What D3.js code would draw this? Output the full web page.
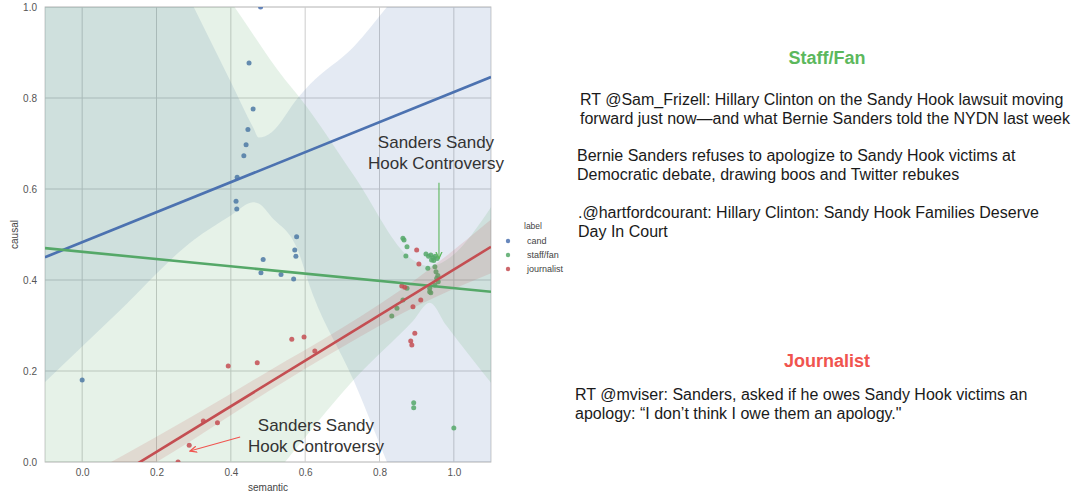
<!DOCTYPE html>
<html><head><meta charset="utf-8">
<script src="https://cdn.jsdelivr.net/npm/d3@7"></script>
<style>
body{margin:0;background:#fff;}
svg{display:block;font-family:"Liberation Sans",Arial,Helvetica,sans-serif;}
</style>
</head><body>
<svg id="chart" width="1075" height="494"></svg>
<script>
// ---------- data ----------
const categories = ["cand", "staff/fan", "journalist"];
const seriesColors = ["#4c72b0", "#55a868", "#c44e52"];
const xTicks = [0.0, 0.2, 0.4, 0.6, 0.8, 1.0];
const yTicks = [0.0, 0.2, 0.4, 0.6, 0.8, 1.0];
const xDomain = [-0.1, 1.1];
const yDomain = [0, 1];

const candX = [0.0, 0.48, 0.449, 0.46, 0.446, 0.441, 0.435, 0.417, 0.414, 0.416, 0.577, 0.572, 0.575, 0.487, 0.481, 0.535, 0.569];
const candY = [0.18, 1.0, 0.877, 0.776, 0.731, 0.697, 0.673, 0.626, 0.573, 0.556, 0.495, 0.466, 0.452, 0.445, 0.416, 0.412, 0.402];

const staffX = [0.863, 0.866, 0.874, 0.871, 0.925, 0.932, 0.938, 0.944, 0.950, 0.946, 0.955, 0.940, 0.930, 0.949, 0.952, 0.957, 0.954, 0.949, 0.958, 0.935, 0.938, 0.935, 0.874, 0.863, 0.847, 0.833, 0.892, 0.892, 1.0];
const staffY = [0.492, 0.488, 0.473, 0.453, 0.457, 0.452, 0.455, 0.449, 0.452, 0.443, 0.447, 0.444, 0.426, 0.429, 0.418, 0.410, 0.404, 0.389, 0.396, 0.382, 0.372, 0.374, 0.382, 0.356, 0.338, 0.321, 0.130, 0.119, 0.075];

const journalistX = [0.258, 0.288, 0.326, 0.364, 0.393, 0.471, 0.564, 0.597, 0.626, 0.860, 0.868, 0.911, 0.890, 0.895, 0.884, 0.887, 0.900, 0.906];
const journalistY = [0.0, 0.037, 0.090, 0.086, 0.211, 0.218, 0.270, 0.275, 0.244, 0.387, 0.384, 0.356, 0.341, 0.283, 0.266, 0.257, 0.466, 0.435];

// regression lines (values at x = -0.1 and 1.1)
const lineX = [-0.1, 1.1];
const candLine = [0.450, 0.846];
const staffLine = [0.470, 0.374];
const journalistLine = [-0.128, 0.473];

// confidence bands
const candBandX    = [-0.1, 0.10, 0.30, 0.40, 0.46, 0.475, 0.51, 0.58, 0.613, 0.73, 0.82, 1.1];
const candBandLow  = [0.176, 0.332, 0.488, 0.542, 0.571, 0.568, 0.538, 0.466, 0.385, 0.18, 0.0, -0.56];
const candBandHigh = [1.66, 1.33, 1.0, 0.835, 0.735, 0.713, 0.725, 0.80, 0.83, 0.912, 1.0, 1.29];

const staffBandX    = [-0.1, 0.41, 0.546, 0.586, 0.73, 0.89, 0.935, 0.98, 1.1];
const staffBandLow  = [-0.65, -0.13, 0.0, 0.04, 0.18, 0.31, 0.35, 0.30, 0.174];
const staffBandHigh = [1.59, 1.0, 0.84, 0.80, 0.631, 0.444, 0.43, 0.444, 0.56];

const journalistBandX    = [-0.1, 0.1, 0.3, 0.5, 0.7, 0.9, 1.1];
const journalistBandLow  = [-0.18, -0.053, 0.050, 0.155, 0.253, 0.343, 0.415];
const journalistBandHigh = [-0.078, 0.010, 0.102, 0.199, 0.295, 0.403, 0.533];

// annotations (data coordinates)
const annoLines = [["Sanders Sandy", "Hook Controversy"], ["Sanders Sandy", "Hook Controversy"]];
const annoTextX = [0.952, 0.629];
const annoTextY = [0.69, 0.068];
const annoArrowFrom = [[0.96, 0.614], [0.425, 0.055]];
const annoArrowTo = [[0.96, 0.447], [0.29, 0.024]];
const annoColors = ["#5cb85c", "#f0544f"];

// right-hand tweets
const panelHeads = ["Staff/Fan", "Journalist"];
const panelHeadColors = ["#5cb85c", "#f0544f"];
const tweets = [
  ["RT @Sam_Frizell: Hillary Clinton on the Sandy Hook lawsuit moving", "forward just now\u2014and what Bernie Sanders told the NYDN last week"],
  ["Bernie Sanders refuses to apologize to Sandy Hook victims at", "Democratic debate, drawing boos and Twitter rebukes"],
  [".@hartfordcourant: Hillary Clinton: Sandy Hook Families Deserve", "Day In Court"],
  ["RT @mviser: Sanders, asked if he owes Sandy Hook victims an", "apology: \u201cI don\u2019t think I owe them an apology.\""]
];

// ---------- drawing ----------
const svg = d3.select("#chart");
const L = 45, R = 491, T = 7, B = 462;
const x = d3.scaleLinear().domain(xDomain).range([L, R]);
const y = d3.scaleLinear().domain(yDomain).range([B, T]);

svg.append("defs").append("clipPath").attr("id", "plotclip")
  .append("rect").attr("x", L).attr("y", T).attr("width", R - L).attr("height", B - T);

// grid
const grid = svg.append("g");
grid.selectAll(".gx").data(xTicks).enter().append("line")
  .attr("x1", d => x(d)).attr("x2", d => x(d)).attr("y1", T).attr("y2", B)
  .attr("stroke", "#cccccc").attr("stroke-width", 1);
grid.selectAll(".gy").data(yTicks).enter().append("line")
  .attr("y1", d => y(d)).attr("y2", d => y(d)).attr("x1", L).attr("x2", R)
  .attr("stroke", "#cccccc").attr("stroke-width", 1);
svg.append("rect").attr("x", L).attr("y", T).attr("width", R - L).attr("height", B - T)
  .attr("fill", "none").attr("stroke", "#cccccc").attr("stroke-width", 1);

// axes (labels only)
const xAxis = svg.append("g").attr("transform", `translate(0,${B})`)
  .call(d3.axisBottom(x).tickValues(xTicks).tickFormat(d3.format(".1f")).tickSize(0).tickPadding(7));
const yAxis = svg.append("g").attr("transform", `translate(${L},0)`)
  .call(d3.axisLeft(y).tickValues(yTicks).tickFormat(d3.format(".1f")).tickSize(0).tickPadding(8));
[xAxis, yAxis].forEach(a => {
  a.select(".domain").remove();
  a.selectAll("text").attr("fill", "#555").style("font-size", "10px").style("font-family", "'Liberation Sans', Arial, sans-serif");
});
svg.append("text").attr("x", (L + R) / 2).attr("y", 491).attr("text-anchor", "middle")
  .attr("fill", "#444").style("font-size", "10px").text("semantic");
svg.append("text").attr("transform", `translate(18,${(T + B) / 2}) rotate(-90)`).attr("text-anchor", "middle")
  .attr("fill", "#444").style("font-size", "10px").text("causal");

const plot = svg.append("g").attr("clip-path", "url(#plotclip)");

const series = [
  {xs: candX, ys: candY, line: candLine, bx: candBandX, bl: candBandLow, bh: candBandHigh},
  {xs: staffX, ys: staffY, line: staffLine, bx: staffBandX, bl: staffBandLow, bh: staffBandHigh},
  {xs: journalistX, ys: journalistY, line: journalistLine, bx: journalistBandX, bl: journalistBandLow, bh: journalistBandHigh}
];

const area = d3.area().x(d => x(d[0])).y0(d => y(d[1])).y1(d => y(d[2])).curve(d3.curveMonotoneX);
const lineGen = d3.line().x(d => x(d[0])).y(d => y(d[1]));

// scatter + band (zorder 1)
series.forEach((s, i) => {
  plot.append("g").selectAll("circle").data(s.xs.map((v, k) => [v, s.ys[k]])).enter()
    .append("circle").attr("cx", d => x(d[0])).attr("cy", d => y(d[1])).attr("r", 2.5)
    .attr("fill", seriesColors[i]).attr("fill-opacity", 0.85);
  plot.append("path").datum(s.bx.map((v, k) => [v, s.bl[k], s.bh[k]]))
    .attr("d", area).attr("fill", seriesColors[i]).attr("fill-opacity", 0.15);
});
// regression lines (zorder 2)
series.forEach((s, i) => {
  plot.append("path").datum(lineX.map((v, k) => [v, s.line[k]]))
    .attr("d", lineGen).attr("fill", "none").attr("stroke", seriesColors[i]).attr("stroke-width", 2.6);
});

// legend
const leg = svg.append("g");
leg.append("text").attr("x", 524).attr("y", 229).attr("fill", "#444").style("font-size", "8.5px").text("label");
categories.forEach((c, i) => {
  const yy = 241 + i * 14;
  leg.append("circle").attr("cx", 508).attr("cy", yy).attr("r", 2.2).attr("fill", seriesColors[i]).attr("fill-opacity", 0.85);
  leg.append("text").attr("x", 527).attr("y", yy + 3).attr("fill", "#444").style("font-size", "9px").text(c);
});

// annotations
const defs = svg.select("defs");
annoColors.forEach((col, i) => {
  defs.append("marker").attr("id", "arr" + i).attr("viewBox", "0 0 10 10").attr("refX", 9).attr("refY", 5)
    .attr("markerWidth", 7).attr("markerHeight", 7).attr("orient", "auto-start-reverse")
    .append("path").attr("d", "M0,1 L9,5 L0,9").attr("fill", "none").attr("stroke", col).attr("stroke-width", 1.6);
});
annoLines.forEach((lines, i) => {
  svg.append("line")
    .attr("x1", x(annoArrowFrom[i][0])).attr("y1", y(annoArrowFrom[i][1]))
    .attr("x2", x(annoArrowTo[i][0])).attr("y2", y(annoArrowTo[i][1]))
    .attr("stroke", annoColors[i]).attr("stroke-width", 1.1).attr("marker-end", `url(#arr${i})`);
  const t = svg.append("text").attr("text-anchor", "middle").attr("fill", "#333")
    .style("font-size", "17px").style("font-family", "'Liberation Sans', Arial, sans-serif");
  lines.forEach((ln, k) => {
    t.append("tspan").attr("x", x(annoTextX[i])).attr("y", y(annoTextY[i]) + k * 21).text(ln);
  });
});

// right text panel
const panel = svg.append("g").style("font-family", "'Liberation Sans', Arial, sans-serif");
const headY = [64, 367];
panelHeads.forEach((h, i) => {
  panel.append("text").attr("x", 827).attr("y", headY[i]).attr("text-anchor", "middle")
    .attr("fill", panelHeadColors[i]).style("font-size", "18px").style("font-weight", "bold").text(h);
});
const tweetX = [580, 577, 578, 575];
const tweetY = [105, 161, 218, 400];
tweets.forEach((tw, i) => {
  tw.forEach((ln, k) => {
    panel.append("text").attr("x", tweetX[i]).attr("y", tweetY[i] + k * 19)
      .attr("fill", "#1a1a1a").style("font-size", "16px").text(ln);
  });
});
</script>
</body></html>
